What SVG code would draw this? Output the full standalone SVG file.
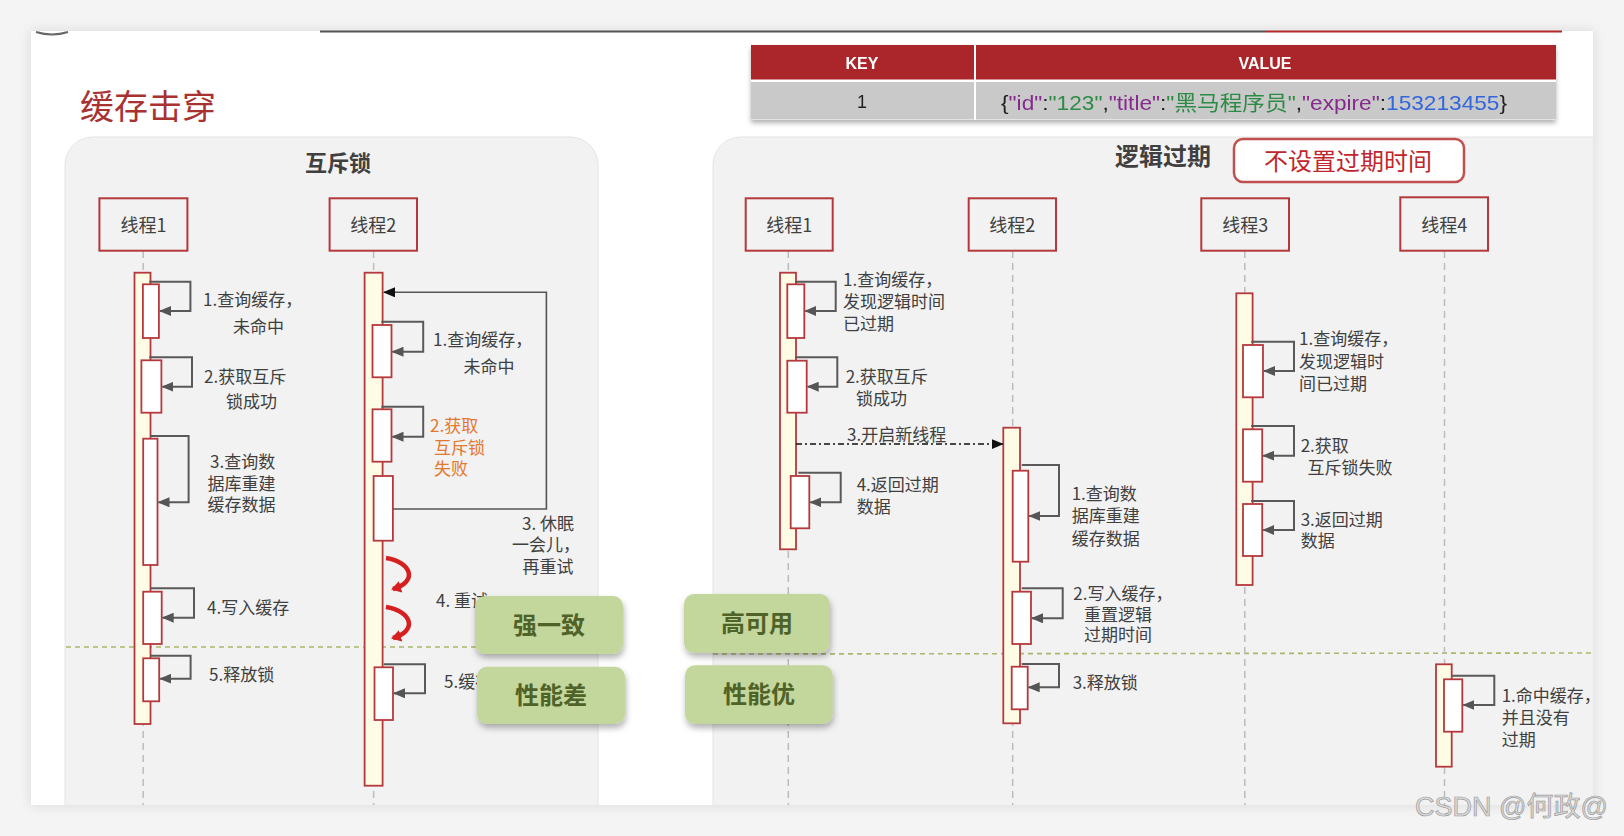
<svg xmlns="http://www.w3.org/2000/svg" width="1624" height="836" viewBox="0 0 1624 836">
<style>
.lbl{font-family:"Noto Sans CJK SC","Noto Sans",sans-serif;font-size:17px;fill:#404040}
.orn{fill:#e3782e}
.hd{font-family:"Noto Sans CJK SC","Noto Sans",sans-serif;font-size:18px;fill:#404040;text-anchor:middle}
.tbox{fill:#f2f2f2;stroke:#b5393c;stroke-width:2}
.bar{fill:#fffce6;stroke:#b5393c;stroke-width:1.8}
.act{fill:#ffffff;stroke:#b5393c;stroke-width:1.8}
.life{stroke:#bcbcbc;stroke-width:1.5;stroke-dasharray:7 5;fill:none}
.self{fill:none;stroke:#595959;stroke-width:2}
.grn{fill:#c3d69b}
.gtx{font-family:"Noto Sans CJK SC",sans-serif;font-size:24px;font-weight:700;fill:#4f6228;text-anchor:middle}
.sep{stroke:#a9b86a;stroke-width:1.6;stroke-dasharray:5 4;fill:none}
</style>
<defs>
<marker id="ag" markerUnits="userSpaceOnUse" markerWidth="12" markerHeight="10" refX="11" refY="5" orient="auto"><path d="M0,0 L12,5 L0,10 z" fill="#555"/></marker>
<marker id="ab" markerUnits="userSpaceOnUse" markerWidth="12" markerHeight="10" refX="11" refY="5" orient="auto"><path d="M0,0 L12,5 L0,10 z" fill="#111"/></marker>
<marker id="ar" markerUnits="userSpaceOnUse" markerWidth="12" markerHeight="12" refX="8" refY="6" orient="auto"><path d="M0,0 L10,6 L0,12 z" fill="#d61f1f"/></marker>
<filter id="sh" x="-10%" y="-20%" width="120%" height="150%"><feDropShadow dx="1" dy="4" stdDeviation="3" flood-color="#000" flood-opacity="0.3"/></filter>
<filter id="sh2" x="-5%" y="-20%" width="110%" height="160%"><feDropShadow dx="0" dy="3" stdDeviation="2.5" flood-color="#000" flood-opacity="0.3"/></filter>
<filter id="sl" x="-5%" y="-5%" width="110%" height="110%"><feDropShadow dx="0" dy="0" stdDeviation="6" flood-color="#000" flood-opacity="0.12"/></filter>
<clipPath id="slide"><rect x="31" y="31" width="1562" height="774"/></clipPath>
</defs>

<rect width="1624" height="836" fill="#f4f4f4"/>
<rect x="31" y="31" width="1562" height="774" fill="#ffffff" filter="url(#sl)"/>
<path d="M36,32 Q52,37 68,32" stroke="#666" stroke-width="2" fill="none"/>
<line x1="320" y1="31.5" x2="1266" y2="31.5" stroke="#555" stroke-width="1.8"/>
<line x1="1266" y1="31.5" x2="1562" y2="31.5" stroke="#b02a2a" stroke-width="1.8"/>

<g clip-path="url(#slide)">
<text x="80" y="119" style="font-family:'Noto Sans CJK SC',sans-serif;font-size:34px;fill:#a83232">缓存击穿</text>

<g id="table" filter="url(#sh2)">
<rect x="751" y="45" width="805" height="75" fill="#ffffff"/>
<rect x="751" y="45" width="223" height="34.5" fill="#ab2529"/>
<rect x="976" y="45" width="580" height="34.5" fill="#ab2529"/>
<rect x="751" y="82" width="223" height="37.5" fill="#c9c9c9"/>
<rect x="976" y="82" width="580" height="37.5" fill="#c9c9c9"/>
<text x="862" y="69" style="font-family:'Liberation Sans',sans-serif;font-size:16px;font-weight:700;fill:#fff;text-anchor:middle">KEY</text>
<text x="1265" y="69" style="font-family:'Liberation Sans',sans-serif;font-size:16px;font-weight:700;fill:#fff;text-anchor:middle">VALUE</text>
<text x="862" y="108" style="font-family:'Liberation Sans',sans-serif;font-size:18px;fill:#222;text-anchor:middle">1</text>
<text x="1001" y="110" textLength="506" lengthAdjust="spacingAndGlyphs" style="font-family:'Liberation Sans','Noto Sans CJK SC',sans-serif;font-size:21px;fill:#222">{<tspan fill="#862a8e">"id"</tspan>:<tspan fill="#2e8b45">"123"</tspan>,<tspan fill="#862a8e">"title"</tspan>:<tspan fill="#2e8b45">"黑马程序员"</tspan>,<tspan fill="#862a8e">"expire"</tspan>:<tspan fill="#3366dd">153213455</tspan>}</text>
</g>

<g id="panel-mutex">
<rect x="65" y="137" width="533" height="720" rx="28" fill="#f2f2f2" stroke="#e4e4e4" stroke-width="1"/>
<text x="338" y="171" style="font-family:'Noto Sans CJK SC',sans-serif;font-size:22px;font-weight:700;fill:#404040;text-anchor:middle">互斥锁</text>
</g>
<g id="panel-logic">
<rect x="713" y="137" width="940" height="720" rx="28" fill="#f2f2f2" stroke="#e4e4e4" stroke-width="1"/>
<text x="1115" y="165" style="font-family:'Noto Sans CJK SC',sans-serif;font-size:24px;font-weight:700;fill:#404040">逻辑过期</text>
</g>
<g id="no-expire">
<rect x="1234" y="139" width="230" height="43" rx="9" fill="#ffffff" stroke="#c0504d" stroke-width="2.5"/>
<text x="1348" y="170" style="font-family:'Noto Sans CJK SC',sans-serif;font-size:24px;fill:#c0262b;text-anchor:middle">不设置过期时间</text>
</g>

<g id="separators">
<line class="sep" x1="66" y1="647" x2="598" y2="647"/>
<line class="sep" x1="713" y1="654" x2="1593" y2="653"/>
</g>

<!-- Left panel: thread 1 -->
<g id="L-thread1">
<line class="life" x1="143.2" y1="251" x2="143.2" y2="805"/>
<rect class="tbox" x="99.4" y="198.3" width="88" height="52.4"/>
<text class="hd" x="143.4" y="232">线程1</text>
<rect class="bar" x="134.5" y="272.7" width="16" height="451.3"/>
<rect class="act" x="142.9" y="284.3" width="16" height="53.7"/>
<rect class="act" x="141.4" y="360.3" width="20" height="52.4"/>
<rect class="act" x="143.2" y="438.7" width="14.3" height="126.3"/>
<rect class="act" x="143.2" y="591.7" width="18.5" height="52.3"/>
<rect class="act" x="143.2" y="658.3" width="16" height="43"/>
<text class="lbl" x="203" y="306">1.查询缓存，</text>
<text class="lbl" x="233" y="333">未命中</text>
<text class="lbl" x="204" y="383">2.获取互斥</text>
<text class="lbl" x="226" y="408">锁成功</text>
<text class="lbl" x="210" y="468">3.查询数</text>
<text class="lbl" x="207.5" y="490">据库重建</text>
<text class="lbl" x="207.5" y="511">缓存数据</text>
<text class="lbl" x="207" y="614">4.写入缓存</text>
<text class="lbl" x="209" y="681">5.释放锁</text>
</g>

<!-- Left panel: thread 2 -->
<g id="L-thread2">
<line class="life" x1="373.6" y1="251" x2="373.6" y2="805"/>
<rect class="tbox" x="329.6" y="198.3" width="87.4" height="52.4"/>
<text class="hd" x="373.3" y="232">线程2</text>
<rect class="bar" x="364.6" y="272.7" width="18" height="513"/>
<rect class="act" x="372.5" y="325" width="19" height="52.3"/>
<rect class="act" x="372.5" y="409.3" width="19" height="52.4"/>
<rect class="act" x="373.6" y="476" width="19.3" height="64.7"/>
<rect class="act" x="374.5" y="667.3" width="18.5" height="52.7"/>
<text class="lbl" x="433" y="346">1.查询缓存，</text>
<text class="lbl" x="463.6" y="373">未命中</text>
<text class="lbl orn" x="430" y="432">2.获取</text>
<text class="lbl orn" x="434" y="454">互斥锁</text>
<text class="lbl orn" x="434" y="475">失败</text>
<text class="lbl" x="548" y="530" text-anchor="middle">3. 休眠</text>
<text class="lbl" x="546" y="551" text-anchor="middle">一会儿，</text>
<text class="lbl" x="548" y="573" text-anchor="middle">再重试</text>
<text class="lbl" x="436" y="607">4. 重试</text>
<text class="lbl" x="444" y="688">5.缓存</text>
</g>

<!-- Right panel threads -->
<g id="R-thread1">
<line class="life" x1="788.3" y1="251" x2="788.3" y2="805"/>
<rect class="tbox" x="745.7" y="198.3" width="87" height="52.4"/>
<text class="hd" x="789.2" y="232">线程1</text>
<rect class="bar" x="780" y="272.7" width="16" height="276.6"/>
<rect class="act" x="787.3" y="284.3" width="17" height="53.7"/>
<rect class="act" x="787.3" y="360.7" width="19.4" height="52"/>
<rect class="act" x="790.7" y="476" width="18.6" height="52.3"/>
<text class="lbl" x="843" y="286">1.查询缓存，</text>
<text class="lbl" x="843" y="308">发现逻辑时间</text>
<text class="lbl" x="843" y="330">已过期</text>
<text class="lbl" x="845.7" y="383">2.获取互斥</text>
<text class="lbl" x="856" y="405">锁成功</text>
<text class="lbl" x="856.7" y="491">4.返回过期</text>
<text class="lbl" x="856.7" y="513">数据</text>
<text class="lbl" x="847" y="441">3.开启新线程</text>
</g>

<g id="R-thread2">
<line class="life" x1="1012.7" y1="251" x2="1012.7" y2="805"/>
<rect class="tbox" x="968.7" y="198.3" width="87.3" height="52.4"/>
<text class="hd" x="1012.3" y="232">线程2</text>
<rect class="bar" x="1003.3" y="427.7" width="16.7" height="295.6"/>
<rect class="act" x="1012.7" y="470.7" width="15.6" height="91"/>
<rect class="act" x="1012.3" y="591.7" width="18.7" height="52.3"/>
<rect class="act" x="1011.7" y="666.7" width="16" height="42.6"/>
<text class="lbl" x="1071.7" y="500">1.查询数</text>
<text class="lbl" x="1071.7" y="522">据库重建</text>
<text class="lbl" x="1071.7" y="545">缓存数据</text>
<text class="lbl" x="1073.3" y="600">2.写入缓存，</text>
<text class="lbl" x="1084" y="621">重置逻辑</text>
<text class="lbl" x="1084" y="641">过期时间</text>
<text class="lbl" x="1072.7" y="689">3.释放锁</text>
</g>

<g id="R-thread3">
<line class="life" x1="1244.8" y1="251" x2="1244.8" y2="805"/>
<rect class="tbox" x="1201.3" y="198.3" width="87.7" height="52.4"/>
<text class="hd" x="1245.2" y="232">线程3</text>
<rect class="bar" x="1236.3" y="293.3" width="16.3" height="291.7"/>
<rect class="act" x="1243" y="345" width="20" height="52.3"/>
<rect class="act" x="1243" y="429.3" width="19.2" height="52.4"/>
<rect class="act" x="1243" y="504" width="19.2" height="52"/>
<text class="lbl" x="1299" y="345">1.查询缓存，</text>
<text class="lbl" x="1299" y="368">发现逻辑时</text>
<text class="lbl" x="1299" y="390">间已过期</text>
<text class="lbl" x="1300.7" y="452">2.获取</text>
<text class="lbl" x="1307.4" y="474">互斥锁失败</text>
<text class="lbl" x="1300.7" y="526">3.返回过期</text>
<text class="lbl" x="1300.7" y="547">数据</text>
</g>

<g id="R-thread4">
<line class="life" x1="1444.5" y1="251" x2="1444.5" y2="805"/>
<rect class="tbox" x="1400.3" y="197.3" width="87.7" height="53.4"/>
<text class="hd" x="1444.2" y="232">线程4</text>
<rect class="bar" x="1436" y="664.3" width="15.7" height="102.4"/>
<rect class="act" x="1444" y="679.3" width="18.3" height="52.4"/>
<text class="lbl" x="1501.7" y="702">1.命中缓存，</text>
<text class="lbl" x="1501.7" y="724">并且没有</text>
<text class="lbl" x="1501.7" y="746">过期</text>
</g>

<g id="connectors">
<path class="self" marker-end="url(#ag)" d="M149.3,281.7 H190.4 V311 H160"/>
<path class="self" marker-end="url(#ag)" d="M149.3,357.3 H192 V386.7 H162.4"/>
<path class="self" marker-end="url(#ag)" d="M150,436 H188.6 V502.3 H158.5"/>
<path class="self" marker-end="url(#ag)" d="M150.6,588.3 H194 V617.7 H162.7"/>
<path class="self" marker-end="url(#ag)" d="M150,655.7 H190.6 V678.7 H160.2"/>
<path class="self" marker-end="url(#ag)" d="M381.4,321.7 H423.2 V351.7 H392.5"/>
<path class="self" marker-end="url(#ag)" d="M381.4,406.7 H423.2 V436.7 H392.5"/>
<path d="M392.9,509 H546.4 V292.3 H384" fill="none" stroke="#555" stroke-width="1.6" marker-end="url(#ab)"/>
<path class="self" marker-end="url(#ag)" d="M383.7,664.3 H425 V693.3 H394"/>
<path d="M386,558 C412,562 418,582 393,589" fill="none" stroke="#d61f1f" stroke-width="4.5" marker-end="url(#ar)"/>
<path d="M386,607 C412,611 418,631 393,638" fill="none" stroke="#d61f1f" stroke-width="4.5" marker-end="url(#ar)"/>
<path class="self" marker-end="url(#ag)" d="M795,281.7 H835.7 V311 H805.3"/>
<path class="self" marker-end="url(#ag)" d="M795,357.3 H837.3 V386.7 H807.7"/>
<path class="self" marker-end="url(#ag)" d="M798.3,472.7 H840.7 V502.3 H810.3"/>
<path d="M796,444 H1002.7" fill="none" stroke="#111" stroke-width="1.6" stroke-dasharray="6 3 2 3" marker-end="url(#ab)"/>
<path class="self" marker-end="url(#ag)" d="M1021.7,465 H1059 V516 H1029.3"/>
<path class="self" marker-end="url(#ag)" d="M1021.7,588.3 H1062.7 V618.3 H1032"/>
<path class="self" marker-end="url(#ag)" d="M1021.7,664 H1059 V687.3 H1028.7"/>
<path class="self" marker-end="url(#ag)" d="M1251.2,341.7 H1294 V371 H1264"/>
<path class="self" marker-end="url(#ag)" d="M1251.2,426 H1294 V455.7 H1263.2"/>
<path class="self" marker-end="url(#ag)" d="M1251.2,501 H1294 V530 H1263.2"/>
<path class="self" marker-end="url(#ag)" d="M1451.7,675.7 H1494.3 V705 H1463.3"/>
</g>

<g id="tag-strong">
<rect class="grn" x="475" y="596" width="148" height="58" rx="10" filter="url(#sh)"/>
<text class="gtx" x="549" y="634">强一致</text>
</g>
<g id="tag-slow">
<rect class="grn" x="477" y="666.7" width="148" height="57.3" rx="10" filter="url(#sh)"/>
<text class="gtx" x="551" y="704">性能差</text>
</g>
<g id="tag-ha">
<rect class="grn" x="684" y="594" width="146" height="58.7" rx="10" filter="url(#sh)"/>
<text class="gtx" x="757" y="632">高可用</text>
</g>
<g id="tag-fast">
<rect class="grn" x="685" y="665.3" width="147.7" height="58.7" rx="10" filter="url(#sh)"/>
<text class="gtx" x="759" y="703">性能优</text>
</g>
</g>

<text x="1415" y="816" style="font-family:'Liberation Sans','Noto Sans CJK SC',sans-serif;font-size:27px;fill:#dadada;stroke:#9c9c9c;stroke-width:0.7">CSDN @何政@</text>
</svg>
